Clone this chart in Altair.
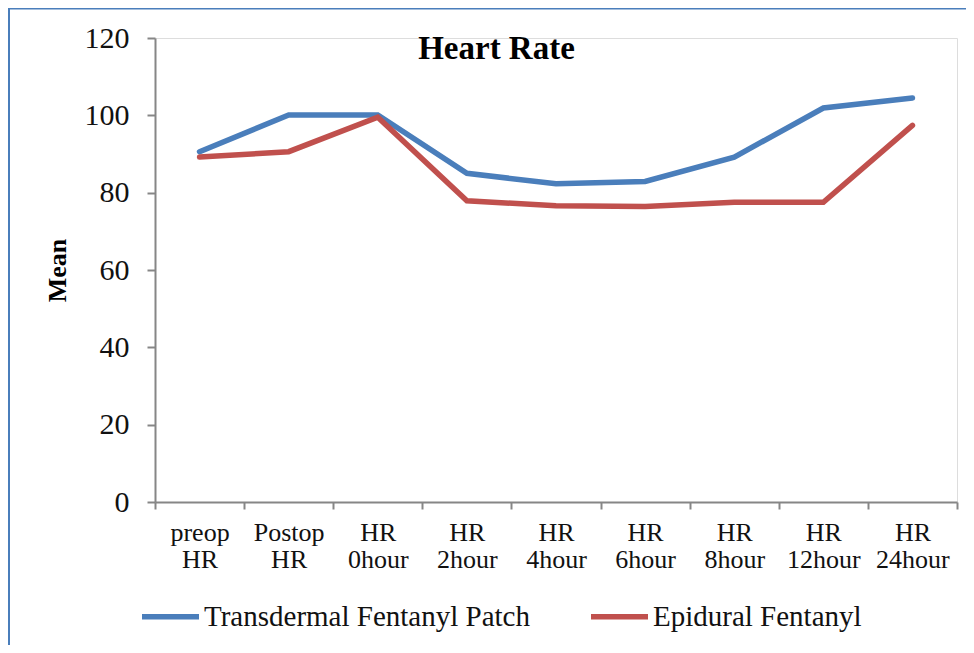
import altair as alt
import pandas as pd

categories = ["preop HR", "Postop HR", "HR 0hour", "HR 2hour", "HR 4hour",
              "HR 6hour", "HR 8hour", "HR 12hour", "HR 24hour"]
transdermal = [90.6, 100.1, 100.1, 85.0, 82.3, 82.9, 89.2, 101.9, 104.5]
epidural = [89.2, 90.6, 99.5, 77.9, 76.6, 76.4, 77.5, 77.5, 97.4]
series_names = ["Transdermal Fentanyl Patch", "Epidural Fentanyl"]
series_colors = ["#4A7EBB", "#C0504D"]
y_ticks = [0, 20, 40, 60, 80, 100, 120]
chart_title = "Heart Rate"

rows = []
for i, c in enumerate(categories):
    rows.append({"time": c, "series": series_names[0], "value": transdermal[i], "order": i})
    rows.append({"time": c, "series": series_names[1], "value": epidural[i], "order": i})
df = pd.DataFrame(rows)

W, H = 802, 464
SERIF = "Liberation Serif"

lines = alt.Chart(df).mark_line(strokeWidth=5.5, strokeCap="round", strokeJoin="miter").encode(
    x=alt.X("time:N", sort=categories, bandPosition=0.5,
            scale=alt.Scale(type="band", paddingInner=0, paddingOuter=0),
            axis=alt.Axis(title=None, labelAngle=0, tickBand="extent",
                          labelExpr="split(datum.label, ' ')",
                          labelFont=SERIF, labelFontSize=26, labelColor="#111111",
                          labelLineHeight=27, labelPadding=10, labelBaseline="top",
                          tickSize=7, tickColor="#868686", tickWidth=2,
                          domainColor="#868686", domainWidth=2, grid=False)),
    y=alt.Y("value:Q", scale=alt.Scale(domain=[0, 120], nice=False, zero=True),
            axis=alt.Axis(title="Mean", values=y_ticks, grid=False,
                          labelFont=SERIF, labelFontSize=30, labelColor="#111111",
                          labelPadding=18, tickSize=8, tickColor="#868686", tickWidth=2,
                          domainColor="#868686", domainWidth=2,
                          titleFont=SERIF, titleFontSize=26, titleFontWeight="bold",
                          titleColor="#000000", titlePadding=14)),
    color=alt.Color("series:N", sort=series_names,
                    scale=alt.Scale(domain=series_names, range=series_colors),
                    legend=alt.Legend(title=None, orient="none", direction="horizontal",
                                      legendX=-16, legendY=547,
                                      symbolType="stroke", symbolSize=3249,
                                      symbolStrokeWidth=5.5, labelFont=SERIF,
                                      labelFontSize=29, labelColor="#111111",
                                      labelLimit=0, labelOffset=2, columnPadding=50,
                                      padding=0)),
    order="order:Q",
)

title_text = alt.Chart(alt.Data(values=[{"t": chart_title}])).mark_text(
    font=SERIF, fontSize=33, fontWeight="bold", color="#000000",
    align="center", baseline="alphabetic"
).encode(text="t:N", x=alt.value(341.5), y=alt.value(21))

border = alt.Chart(alt.Data(values=[{}])).mark_rule(color="#4A7EBB", strokeWidth=2).encode(
    x=alt.value(-146), y=alt.value(-30), y2=alt.value(H + 200)
)
border_top = alt.Chart(alt.Data(values=[{}])).mark_rule(color="#4A7EBB", strokeWidth=2).encode(
    x=alt.value(-160), x2=alt.value(W + 40), y=alt.value(-29.5)
)

chart = alt.layer(lines, title_text, border, border_top).properties(
    width=W, height=H,
    autosize=alt.AutoSizeParams(type="none"),
    padding={"left": 147, "top": 30, "right": 9, "bottom": 143},
).configure_view(stroke=None).configure(background="white")

chart.save("out.html", embed_options={"renderer": "svg", "actions": False})
